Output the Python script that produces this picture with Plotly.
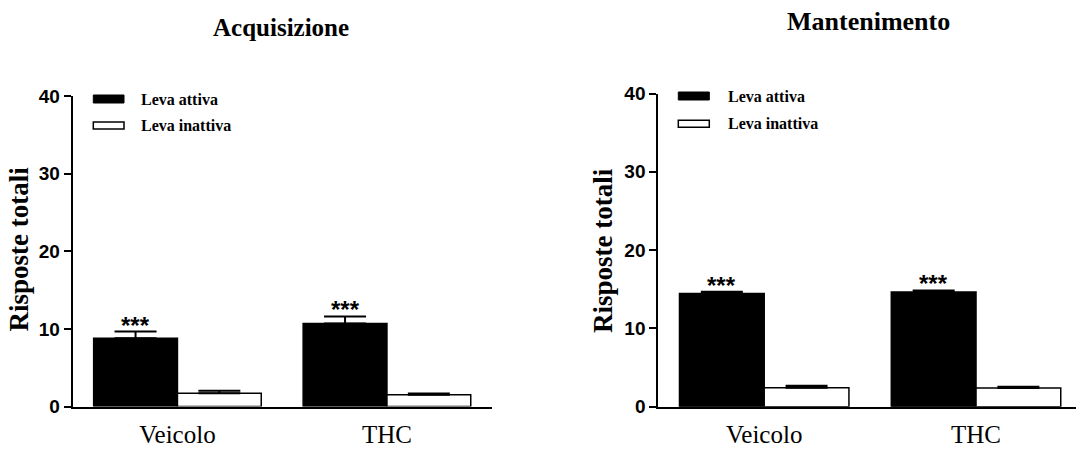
import plotly.graph_objects as go

# ---- data ----
categories = ["Veicolo", "THC"]
series_names = ["Leva attiva", "Leva inattiva"]
panel_titles = ["Acquisizione", "Mantenimento"]
y_title = "Risposte totali"
y_ticks = [0, 10, 20, 30, 40]

acq_active = [8.8, 10.7]
acq_active_err = [0.85, 0.9]
acq_inactive = [1.7, 1.5]
acq_inactive_err = [0.34, 0.17]

man_active = [14.45, 14.65]
man_active_err = [0.22, 0.2]
man_inactive = [2.43, 2.39]
man_inactive_err = [0.25, 0.17]

stars = "***"

W, H = 1076, 452
def px(x):
    return x / W
def py(y):
    return 1 - y / H

SERIF = "Liberation Serif"
SANS = "Liberation Sans"

fig = go.Figure()
xidx = [0, 1]

panels = [
    dict(xa="x", ya="y", act=acq_active, acte=acq_active_err, ina=acq_inactive, inae=acq_inactive_err),
    dict(xa="x2", ya="y2", act=man_active, acte=man_active_err, ina=man_inactive, inae=man_inactive_err),
]

for p in panels:
    fig.add_trace(go.Bar(
        x=xidx, y=p["act"], name=series_names[0], xaxis=p["xa"], yaxis=p["ya"],
        marker=dict(color="black", line=dict(color="black", width=1.5)),
        error_y=dict(type="data", array=p["acte"], arrayminus=[0, 0], symmetric=False,
                     color="black", thickness=2, width=21),
        showlegend=False, offsetgroup="a",
    ))
    fig.add_trace(go.Bar(
        x=xidx, y=p["ina"], name=series_names[1], xaxis=p["xa"], yaxis=p["ya"],
        marker=dict(color="white", line=dict(color="black", width=1.5)),
        error_y=dict(type="data", array=p["inae"], arrayminus=[0, 0], symmetric=False,
                     color="black", thickness=2, width=21),
        showlegend=False, offsetgroup="b",
    ))

common_x = dict(showline=True, linecolor="black", linewidth=2, showgrid=False, zeroline=False,
                tickvals=xidx, ticktext=categories, ticks="", automargin=False,
                tickfont=dict(family=SERIF, size=25, color="black"), ticklabelstandoff=4,
                fixedrange=True)
common_y = dict(showline=True, linecolor="black", linewidth=2, showgrid=False, zeroline=False,
                range=[0, 40], tickvals=y_ticks, ticks="outside", ticklen=7, tickwidth=2,
                tickcolor="black", automargin=False, fixedrange=True,
                tickfont=dict(family=SANS, size=19, color="black", weight="bold"))

fig.update_layout(
    width=W, height=H, autosize=False,
    margin=dict(l=0, r=0, t=0, b=0, pad=0, autoexpand=False),
    paper_bgcolor="white", plot_bgcolor="white",
    barmode="group", bargap=0.2, bargroupgap=0,
    xaxis=dict(domain=[px(72.7), px(491.7)], range=[-0.5, 1.5], anchor="y", **common_x),
    yaxis=dict(domain=[py(406.5), py(96)], anchor="x", **common_y),
    xaxis2=dict(domain=[px(658.3), 1.0], range=[-0.5, 1.472], anchor="y2", **common_x),
    yaxis2=dict(domain=[py(406.7), py(93.5)], anchor="x2", **common_y),
)

anns = []
# titles
anns.append(dict(text=panel_titles[0], x=px(280.5), y=py(27), xref="paper", yref="paper",
                 showarrow=False, xanchor="center", yanchor="middle",
                 font=dict(family=SERIF, size=25, color="black", weight="bold")))
anns.append(dict(text=panel_titles[1], x=px(868), y=py(22), xref="paper", yref="paper",
                 showarrow=False, xanchor="center", yanchor="middle",
                 font=dict(family=SERIF, size=26, color="black", weight="bold")))
# y titles
for xc, yc in [(18.5, 249), (603, 250)]:
    anns.append(dict(text=y_title, x=px(xc), y=py(yc), xref="paper", yref="paper",
                     showarrow=False, xanchor="center", yanchor="middle", textangle=-90,
                     font=dict(family=SERIF, size=27, color="black", weight="bold")))
# significance stars above active bars
for p in panels:
    for i, (v, e) in enumerate(zip(p["act"], p["acte"])):
        anns.append(dict(text=stars, x=xidx[i] - 0.2, y=v + e, xref=p["xa"], yref=p["ya"],
                         showarrow=False, xanchor="center", yanchor="bottom", yshift=-9,
                         font=dict(family=SANS, size=24, color="black", weight="bold")))

# manual legends
shapes = []
legend_pos = [
    dict(x0=93.3, x1=124, y1c=99, y2c=125.4, tx=139),
    dict(x0=678.3, x1=709.3, y1c=96, y2c=123.7, tx=726),
]
for lp in legend_pos:
    shapes.append(dict(type="rect", xref="paper", yref="paper",
                       x0=px(lp["x0"]), x1=px(lp["x1"]), y0=py(lp["y1c"] + 4), y1=py(lp["y1c"] - 4),
                       fillcolor="black", line=dict(color="black", width=1)))
    shapes.append(dict(type="rect", xref="paper", yref="paper",
                       x0=px(lp["x0"]), x1=px(lp["x1"]), y0=py(lp["y2c"] + 3.5), y1=py(lp["y2c"] - 3.5),
                       fillcolor="white", line=dict(color="black", width=1.5)))
    for name, yc in [(series_names[0], lp["y1c"]), (series_names[1], lp["y2c"])]:
        anns.append(dict(text=name, x=px(lp["tx"]), y=py(yc), xref="paper", yref="paper",
                         showarrow=False, xanchor="left", yanchor="middle",
                         font=dict(family=SERIF, size=16, color="black", weight="bold")))

fig.update_layout(annotations=anns, shapes=shapes)
fig.write_html("out.html", config={"displayModeBar": False},
               default_width=f"{W}px", default_height=f"{H}px",
               post_script="document.body.style.margin='0';document.body.style.overflow='hidden';")
